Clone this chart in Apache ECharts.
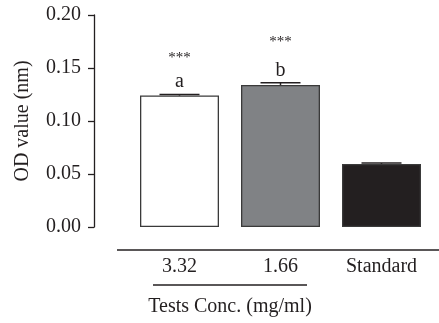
<!DOCTYPE html>
<html>
<head>
<meta charset="utf-8">
<script src="https://cdn.jsdelivr.net/npm/echarts@6/dist/echarts.min.js"></script>
<style>html,body{margin:0;padding:0;background:#fff}#c{width:439px;height:323px}</style>
</head>
<body>
<div id="c"></div>
<script>
const categories = ['3.32', '1.66', 'Standard'];
const values = [0.124, 0.134, 0.0595];
const errors = [0.001, 0.002, 0.0008];
const letters = ['a', 'b', ''];
const stars = ['***', '***', ''];
const yTicks = [0, 0.05, 0.10, 0.15, 0.20];
const barColors = ['#ffffff', '#808285', '#231f20'];
const yName = 'OD value (nm)';
const xName = 'Tests Conc. (mg/ml)';

const ink = '#231f20';
const FONT = '"Liberation Serif", "DejaVu Serif", serif';
const starStyle = ['s', 'st', 's'];

const chart = echarts.init(document.getElementById('c'), null, {renderer: 'canvas'});
chart.setOption({
  animation: false,
  backgroundColor: '#fff',
  grid: {left: 129, width: 303, top: 15, bottom: 96, containLabel: false},
  xAxis: {
    type: 'category',
    data: categories,
    axisLine: {show: false},
    axisTick: {show: false},
    axisLabel: {fontFamily: FONT, fontSize: 20, color: ink, margin: 30}
  },
  yAxis: {
    type: 'value',
    min: yTicks[0], max: yTicks[yTicks.length - 1], interval: 0.05,
    offset: 35,
    splitLine: {show: false},
    axisLine: {show: true, lineStyle: {color: ink, width: 1.3}},
    axisTick: {show: true, length: 6, lineStyle: {color: ink, width: 1.3}},
    axisLabel: {fontFamily: FONT, fontSize: 20, color: ink, margin: 13,
      formatter: v => v.toFixed(2)},
    name: yName,
    nameLocation: 'middle',
    nameGap: 61,
    nameTextStyle: {fontFamily: FONT, fontSize: 20, color: ink}
  },
  series: [
    {
      type: 'bar',
      barWidth: 79,
      data: values.map((v, i) => ({
        value: v,
        itemStyle: {color: barColors[i], borderColor: '#3a3a3a', borderWidth: 1.3}
      })),
      label: {
        show: true,
        position: 'top',
        distance: 4,
        formatter: p => letters[p.dataIndex] ? '{' + starStyle[p.dataIndex] + '|' + stars[p.dataIndex] + '}\n{l|' + letters[p.dataIndex] + '}' : '',
        rich: {
          s: {fontFamily: FONT, fontSize: 15, color: ink, lineHeight: 26, align: 'center'},
          st: {fontFamily: FONT, fontSize: 15, color: ink, lineHeight: 37, align: 'center'},
          l: {fontFamily: FONT, fontSize: 20, color: ink, lineHeight: 20, align: 'center'}
        }
      }
    },
    {
      type: 'custom',
      data: values.map((v, i) => [i, v, errors[i]]),
      renderItem: (params, api) => {
        const x = api.value(0), y = api.value(1), e = api.value(2);
        const base = api.coord([x, y]);
        const top = api.coord([x, y + e]);
        const st = {stroke: ink, lineWidth: 1.5};
        return {type: 'group', children: [
          {type: 'line', shape: {x1: base[0], y1: base[1], x2: top[0], y2: top[1]}, style: st},
          {type: 'line', shape: {x1: top[0] - 20, y1: top[1], x2: top[0] + 20, y2: top[1]}, style: st}
        ]};
      },
      z: 3
    }
  ],
  graphic: [
    {type: 'line', shape: {x1: 117, y1: 250, x2: 439, y2: 250}, style: {stroke: ink, lineWidth: 1.3}},
    {type: 'line', shape: {x1: 153, y1: 285, x2: 307, y2: 285}, style: {stroke: ink, lineWidth: 1.3}},
    {type: 'text', x: 230, y: 307, style: {text: xName, fontFamily: FONT, fontSize: 20, fill: ink, textAlign: 'center', textVerticalAlign: 'middle'}}
  ]
});
</script>
</body>
</html>
